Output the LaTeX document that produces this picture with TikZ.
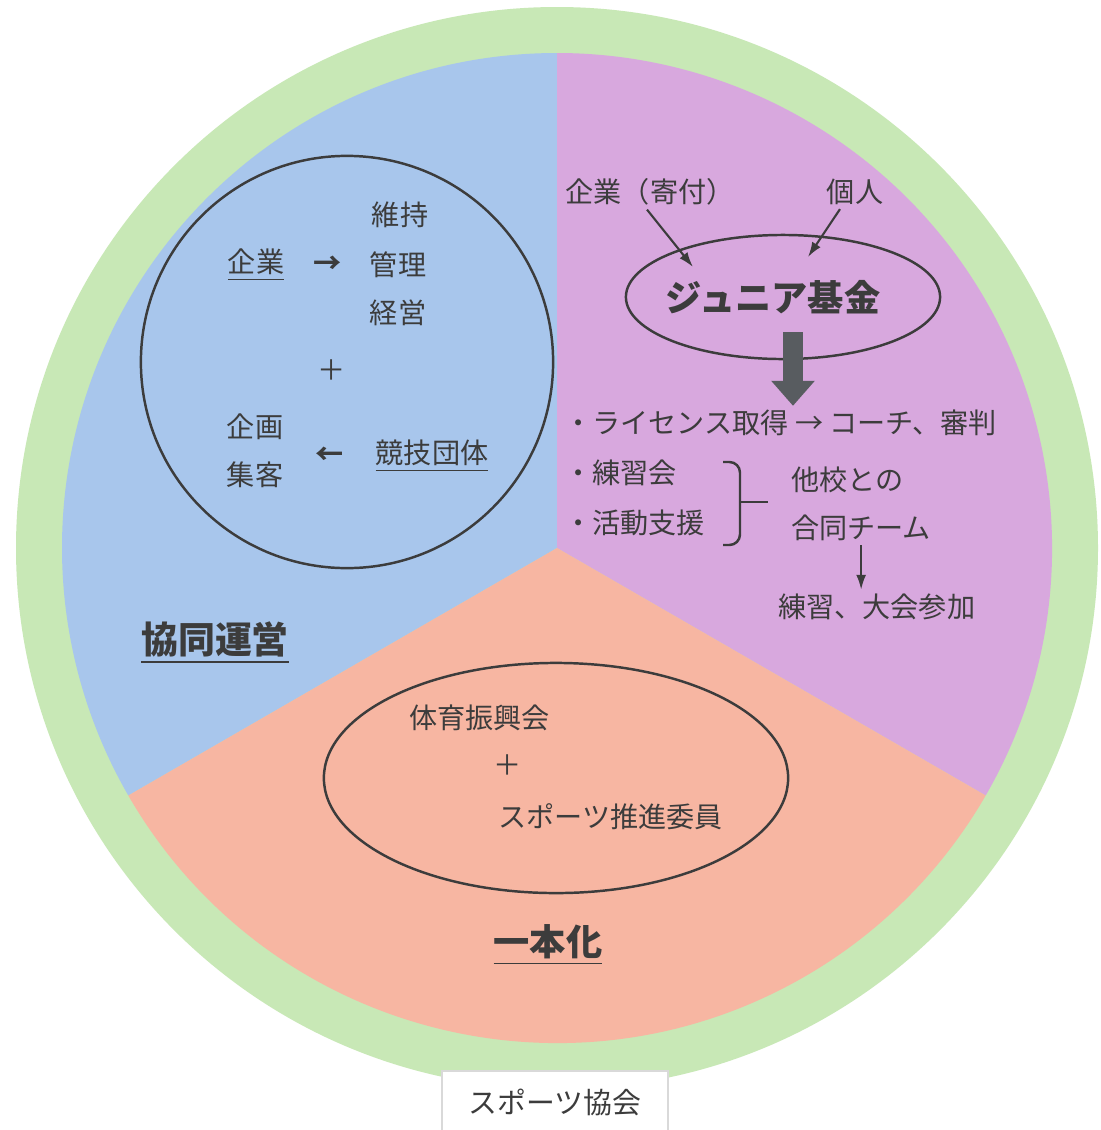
\documentclass[tikz,border=0pt]{standalone}
\usepackage{fontspec}
\setmainfont{Noto Sans CJK JP}
\usetikzlibrary{shapes.geometric,arrows.meta}
\definecolor{Ring}{HTML}{C8E8B6}
\definecolor{BlueSec}{HTML}{A8C6EC}
\definecolor{PurpleSec}{HTML}{D8A8DE}
\definecolor{SalmonSec}{HTML}{F7B6A2}
\definecolor{Ink}{HTML}{3C3C3C}
\definecolor{ArrowGray}{HTML}{585C60}
\begin{document}
\begin{tikzpicture}[x=0.01cm,y=0.01cm]
        \tikzstyle{txt}=[inner sep=1pt, text=Ink, font=\fontsize{8}{10}\selectfont]
        \tikzstyle{headtxt}=[inner sep=1pt, text=Ink, font=\fontsize{10.5}{12}\selectfont\bfseries]
        \tikzstyle{ring}=[draw=Ink, line width=0.7pt]
        \tikzstyle{thinarrow}=[draw=Ink, line width=0.6pt, -{Latex[length=0.15cm,width=0.1cm]}]
        \useasboundingbox[fill=white] (0,0) rectangle (1101,-1130);
        \coordinate (C) at (557,-548);
        \fill[Ring] (C) circle[radius=541];
        \foreach \a/\c in {90/BlueSec,-30/PurpleSec,210/SalmonSec}
            \fill[\c] (C) -- ++(\a:495) arc[start angle=\a, delta angle=120, radius=495] -- cycle;
        % blue part
        \node[ring, circle, minimum size=4.12cm] (KyodoRing) at (347,-362) {};
        \node[txt] (Iji) at (400,-215) {維持};
        \node[txt] (Kanri) at (398,-265) {管理};
        \node[txt] (Keiei) at (398,-313) {経営};
        \node[txt] (Kigyo) at (256,-265) {\underline{企業}};
        \node[txt] (ToRight) at (328,-265) {\bfseries →};
        \node[txt] (Plus) at (332,-370) {＋};
        \node[txt] (Kikaku) at (255,-427) {企画};
        \node[txt] (Shukyaku) at (255,-475) {集客};
        \node[txt] (ToLeft) at (330,-456) {\bfseries ←};
        \node[txt] (Dantai) at (432,-456) {\underline{競技団体}};
        \node[headtxt] (Kyodo) at (215,-643) {\underline{協同運営}};
        % purple part
        \node[txt] (Donor) at (650,-192) {企業（寄付）};
        \node[txt] (Kojin) at (855,-192) {個人};
        \node[ring, ellipse, minimum width=3.14cm, minimum height=1.24cm] (FundRing) at (783,-297) {};
        \node[headtxt, font=\fontsize{10.3}{12}\selectfont\bfseries] (Fund) at (773,-297) {ジュニア基金};
        \coordinate (FundIn1) at (693,-267);
        \coordinate (FundIn2) at (808,-257);
        \draw[thinarrow] ([xshift=-0.03cm]Donor.south) -- (FundIn1);
        \draw[thinarrow] ([xshift=-0.15cm]Kojin.south) -- (FundIn2);
        \node[txt, anchor=west] (License) at (560,-423) {・ライセンス取得 → コーチ、審判};
        \coordinate (ArrowTop) at (793,-332);
        \draw[ArrowGray, line width=0.2cm, -{Triangle[length=0.25cm,width=0.42cm]}] (ArrowTop) -- (ArrowTop |- License.north);
        \node[txt, anchor=west] (Renshu) at (560,-473) {・練習会};
        \node[txt, anchor=west] (Shien) at (560,-523) {・活動支援};
        \draw[Ink, line width=0.7pt, rounded corners=3pt] (723,-462) -- (740,-462) -- (740,-545) -- (723,-545);
        \draw[Ink, line width=0.7pt] (740,-502) -- (768,-502);
        \node[txt, anchor=west] (Takou) at (787,-480) {他校との};
        \node[txt, anchor=west] (Team) at (787,-528) {合同チーム};
        \node[txt, anchor=west] (Practice) at (774,-607) {練習、大会参加};
        \draw[thinarrow] (Team.south) -- (Team.south |- Practice.north);
        % salmon part
        \node[ring, ellipse, minimum width=4.64cm, minimum height=2.30cm] (UnionRing) at (556,-778) {};
        \node[txt, anchor=west] (Taiiku) at (405,-718) {体育振興会};
        \node[txt] (Plus2) at (508,-765) {＋};
        \node[txt, anchor=west] (Suishin) at (494,-817) {スポーツ推進委員};
        \node[headtxt, font=\fontsize{10.3}{12}\selectfont\bfseries] (Ippon) at (548,-945) {\underline{一本化}};
        % label
        \node[txt, draw=gray!30, fill=white, minimum width=2.26cm, minimum height=0.62cm, font=\fontsize{8.2}{10}\selectfont] (Kyokai) at (555,-1102) {スポーツ協会};
      \end{tikzpicture}
\end{document}
